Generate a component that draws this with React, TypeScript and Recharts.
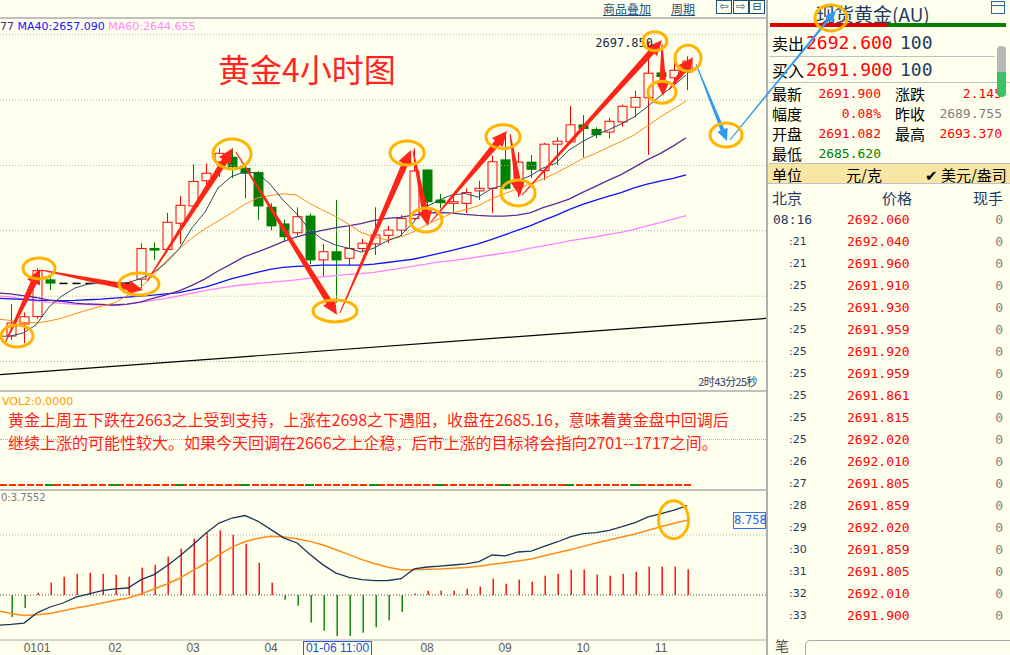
import React from 'react';
import { ComposedChart, Bar, Line, XAxis, YAxis, ReferenceLine, ReferenceDot } from 'recharts';

const BG = '#FFFFEE';
const RED = '#ff0000';
const GREEN = '#008000';
const NAVY = '#1e3a66';
const MONO = '"DejaVu Sans Mono", monospace';
const CJK = '"Noto Sans CJK SC", "DejaVu Sans", sans-serif';

// 4h candles, index 0 = first bar on screen
const opens = [2607.8, 2611.5, 2613.8, 2625.0, 2623.9, 2623.9, 2623.9, 2623.9, 2623.9, 2623.9, 2625.2, 2634.6, 2634.3, 2642.3, 2647.6, 2655.3, 2661.1, 2662.5, 2659.1, 2657.8, 2647.2, 2642.1, 2639.4, 2644.5, 2631.1, 2633.6, 2631.6, 2634.6, 2636.0, 2638.6, 2640.2, 2643.8, 2658.6, 2649.4, 2648.4, 2648.4, 2652.2, 2653.0, 2661.7, 2653.3, 2661.0, 2658.4, 2666.5, 2667.2, 2672.4, 2671.0, 2670.2, 2673.3, 2677.8, 2680.7, 2688.3, 2686.8, 2688.6];
const highs = [2617.6, 2615.0, 2628.5, 2625.8, 2623.9, 2623.9, 2623.9, 2623.9, 2623.9, 2623.9, 2636.2, 2636.4, 2645.5, 2650.6, 2660.3, 2660.6, 2665.2, 2665.2, 2660.0, 2658.3, 2648.4, 2643.4, 2647.2, 2645.3, 2636.0, 2649.4, 2641.5, 2637.5, 2647.2, 2641.5, 2644.8, 2665.2, 2658.8, 2651.3, 2650.4, 2653.0, 2655.3, 2663.0, 2669.8, 2664.0, 2663.2, 2666.9, 2668.6, 2678.2, 2675.4, 2671.7, 2674.6, 2678.6, 2682.8, 2697.85, 2690.0, 2693.2, 2693.37];
const lows = [2606.6, 2605.6, 2613.0, 2621.9, 2623.9, 2623.9, 2623.9, 2623.9, 2623.9, 2623.9, 2622.4, 2631.1, 2634.0, 2636.0, 2646.9, 2653.7, 2656.5, 2656.1, 2649.9, 2643.3, 2640.2, 2637.0, 2638.5, 2629.8, 2626.0, 2618.0, 2629.5, 2633.5, 2632.6, 2636.2, 2638.2, 2643.3, 2646.9, 2646.9, 2645.5, 2645.4, 2649.4, 2645.5, 2652.5, 2650.4, 2656.1, 2655.5, 2660.1, 2667.0, 2662.5, 2668.3, 2668.3, 2671.8, 2674.7, 2663.2, 2684.5, 2685.1, 2683.0];
const closes = [2611.8, 2613.7, 2627.8, 2624.0, 2623.9, 2623.9, 2623.9, 2623.9, 2623.9, 2623.9, 2634.6, 2634.1, 2642.6, 2647.8, 2655.1, 2657.6, 2663.7, 2659.6, 2657.6, 2647.6, 2641.5, 2638.2, 2644.3, 2631.1, 2633.6, 2631.1, 2634.6, 2636.2, 2638.7, 2640.2, 2643.8, 2658.3, 2648.9, 2648.6, 2648.9, 2651.7, 2653.0, 2661.1, 2653.0, 2661.0, 2658.8, 2666.5, 2667.4, 2672.4, 2671.3, 2669.4, 2673.5, 2678.1, 2680.8, 2688.2, 2687.2, 2689.1, 2691.9];

// moving averages, first value belongs to the bar just off the left edge
const ma5 = [2607.7, 2607.8, 2608.7, 2611.2, 2616.7, 2620.1, 2622.5, 2623.7, 2624.1, 2624.1, 2624.1, 2625.3, 2627.1, 2630.2, 2634.4, 2640.9, 2645.7, 2653.1, 2656.5, 2658.0, 2657.7, 2654.3, 2649.4, 2645.4, 2640.6, 2637.5, 2635.7, 2634.7, 2633.5, 2634.7, 2636.9, 2638.4, 2642.4, 2647.3, 2649.4, 2651.0, 2651.4, 2650.3, 2652.8, 2654.0, 2655.2, 2656.8, 2659.2, 2660.7, 2664.7, 2667.2, 2669.3, 2670.8, 2672.7, 2674.8, 2677.9, 2681.2, 2684.3, 2687.6];
const ma10 = [2613.0, 2612.6, 2612.0, 2611.8, 2612.4, 2613.3, 2614.6, 2615.8, 2616.9, 2617.9, 2620.1, 2622.5, 2626.2, 2630.8, 2634.4, 2637.8, 2640.6, 2643.0, 2645.4, 2648.0, 2650.0, 2650.8, 2651.3, 2651.0, 2648.5, 2646.4, 2644.5, 2642.1, 2639.5, 2638.1, 2637.2, 2638.1, 2639.6, 2641.8, 2643.6, 2645.4, 2646.4, 2647.6, 2649.7, 2651.3, 2652.8, 2654.3, 2655.8, 2657.7, 2659.8, 2662.0, 2663.6, 2665.5, 2667.3, 2669.3, 2672.0, 2674.8, 2677.2, 2679.7];
const ma20 = [2621.0, 2620.7, 2620.2, 2619.6, 2618.8, 2618.4, 2617.9, 2617.6, 2617.5, 2617.3, 2617.6, 2618.2, 2619.3, 2620.4, 2621.6, 2623.3, 2625.3, 2627.7, 2629.8, 2632.0, 2633.5, 2635.0, 2636.7, 2638.1, 2639.2, 2640.1, 2640.9, 2641.5, 2642.2, 2643.2, 2643.8, 2644.1, 2644.8, 2645.4, 2645.6, 2645.4, 2645.0, 2644.7, 2644.5, 2644.5, 2644.8, 2645.5, 2647.1, 2648.3, 2649.7, 2651.7, 2653.5, 2655.4, 2657.2, 2659.4, 2661.7, 2663.6, 2665.9, 2668.477];
const ma40 = [2619.4, 2619.2, 2619.0, 2618.8, 2618.7, 2618.6, 2618.7, 2618.9, 2619.1, 2619.4, 2619.7, 2620.0, 2620.3, 2620.7, 2621.1, 2621.9, 2622.8, 2624.0, 2625.3, 2626.3, 2627.3, 2628.2, 2628.8, 2629.1, 2629.3, 2629.5, 2629.5, 2629.5, 2629.5, 2629.8, 2630.3, 2630.8, 2631.3, 2632.2, 2633.1, 2634.0, 2635.0, 2636.0, 2637.3, 2638.7, 2640.1, 2641.5, 2643.2, 2644.7, 2646.5, 2648.0, 2649.3, 2650.5, 2651.7, 2653.1, 2654.3, 2655.2, 2656.0, 2657.09];
const ma60 = [2620.1, 2619.8, 2619.1, 2618.6, 2618.1, 2617.8, 2617.5, 2617.4, 2617.3, 2617.1, 2617.5, 2618.1, 2618.7, 2619.3, 2620.1, 2620.9, 2621.7, 2622.4, 2623.0, 2623.5, 2623.9, 2624.2, 2624.6, 2625.0, 2625.5, 2625.9, 2626.3, 2626.7, 2626.9, 2627.3, 2627.9, 2628.5, 2629.2, 2629.8, 2630.5, 2630.9, 2631.4, 2632.0, 2632.6, 2633.2, 2633.8, 2634.7, 2635.4, 2636.1, 2636.9, 2637.5, 2638.1, 2638.9, 2639.5, 2640.4, 2641.5, 2642.5, 2643.6, 2644.655];

// MACD, dif/dea start one bar before the screen
const macdHist = [-3.2, -1.9, 0.34, 1.8, 2.67, 3.1, 3.26, 3.1, 2.97, 2.67, 4.0, 4.4, 5.6, 6.76, 8.2, 9.05, 9.44, 8.8, 7.5, 4.7, 1.8, -0.68, -1.56, -4.04, -5.2, -6.0, -6.0, -5.5, -4.7, -3.7, -2.5, 0.2, 0.63, 0.63, 0.63, 0.92, 1.22, 2.4, 1.65, 2.24, 1.95, 2.82, 3.1, 3.7, 3.7, 2.97, 2.82, 3.1, 3.4, 4.14, 4.14, 4.14, 3.7552];
const dif = [-4.4, -4.3, -4.1, -2.6, -1.75, -1.17, -0.3, 0.15, 0.63, 0.88, 1.02, 2.24, 2.97, 4.28, 5.74, 7.35, 9.05, 10.5, 11.24, 11.6, 10.76, 9.54, 8.3, 7.6, 5.9, 4.4, 3.2, 2.58, 2.24, 2.1, 2.12, 2.38, 3.8, 4.09, 4.23, 4.38, 4.53, 4.87, 5.84, 5.7, 6.28, 6.42, 7.1, 7.74, 8.47, 8.95, 9.1, 9.44, 9.97, 10.56, 11.39, 11.87, 12.4, 13.04];
const dea = [-2.3, -2.7, -3.0, -2.9, -2.7, -2.3, -1.9, -1.56, -1.17, -0.78, -0.44, 0.15, 0.88, 1.6, 2.48, 3.6, 4.67, 5.9, 7.0, 7.8, 8.3, 8.56, 8.47, 8.2, 7.83, 7.3, 6.6, 5.9, 5.16, 4.57, 4.04, 3.7, 3.7, 3.75, 3.8, 3.9, 4.0, 4.2, 4.48, 4.72, 4.96, 5.26, 5.74, 6.18, 6.62, 7.1, 7.6, 8.03, 8.47, 8.9, 9.44, 9.97, 10.47, 10.9];

const dayTicks = [2, 8, 14, 20, 32, 38, 44, 50];
const dayLabels = ['0101', '02', '03', '04', '08', '09', '10', '11'];
const gridPrices = [2600, 2620, 2640, 2660, 2680, 2700];
const trendStart = [-0.77, 2596.0];
const trendEnd = [58.15, 2613.2];

// hand-drawn annotations, in (bar index, price)
const redArrows = [
  [[-0.38, 2605.7], [2.31, 2628.3]],
  [[2.38, 2628.0], [10.23, 2621.9]],
  [[10.54, 2624.6], [17.15, 2665.3]],
  [[17.38, 2664.1], [25.15, 2614.3]],
  [[25.38, 2614.9], [30.85, 2664.7]],
  [[31.0, 2664.4], [32.15, 2641.5]],
  [[32.38, 2642.7], [38.23, 2670.5]],
  [[38.46, 2669.6], [39.23, 2650.6]],
  [[39.38, 2650.9], [50.15, 2698.3]],
  [[50.15, 2697.1], [50.23, 2681.2]],
  [[50.69, 2683.1], [52.54, 2693.1]],
];
const blueArrows = [
  [[52.77, 2691.0], [55.15, 2667.5]],
  [[55.38, 2667.8], [63.54, 2707.5]],
];
const rings = [
  [0.54, 2607.8, 16, 11], [2.23, 2628.5, 16, 10.5], [9.92, 2623.7, 20, 11],
  [17.08, 2663.5, 19, 15], [25.0, 2615.5, 22, 11], [30.54, 2663.8, 17, 12],
  [32.0, 2643.3, 16, 12], [37.92, 2668.8, 17, 12], [39.08, 2651.6, 17, 13],
  [49.6, 2698.0, 12, 9.5], [50.15, 2682.4, 14, 11], [52.15, 2692.8, 13, 13],
  [55.08, 2669.3, 16, 12], [63.15, 2705.1, 16, 13],
];
const macdRing = [50.96, 11.0];

const quoteLeft = [['最新', '2691.900'], ['幅度', '0.08%'], ['开盘', '2691.082'], ['最低', '2685.620']];
const quoteRight = [['涨跌', '2.145'], ['昨收', '2689.755'], ['最高', '2693.370']];
const tickTimes = ['08:16', ':21', ':21', ':25', ':25', ':25', ':25', ':25', ':25', ':25', ':25', ':26', ':27', ':28', ':29', ':30', ':31', ':32', ':33'];
const tickPrices = ['2692.060', '2692.040', '2691.960', '2691.910', '2691.930', '2691.959', '2691.920', '2691.959', '2691.861', '2691.815', '2692.020', '2692.010', '2691.805', '2691.859', '2692.020', '2691.859', '2691.805', '2692.010', '2691.900'];
const tickVols = [0, 0, 0, 0, 0, 0, 0, 0, 0, 0, 0, 0, 0, 0, 0, 0, 0, 0, 0];

const priceRows = ma5.map((_, k) => {
  const i = k - 1;
  const row: any = { i, ma5: ma5[k], ma10: ma10[k], ma20: ma20[k], ma40: ma40[k], ma60: ma60[k] };
  if (i >= 0) {
    Object.assign(row, { open: opens[i], high: highs[i], low: lows[i], close: closes[i], range: [lows[i], highs[i]] });
  }
  return row;
});

const macdRows = dif.map((_, k) => {
  const i = k - 1;
  return { i, dif: dif[k], dea: dea[k], hist: i >= 0 ? macdHist[i] : undefined };
});

function Candle(props: any) {
  const { x, y, width, height, payload } = props;
  if (!payload || payload.high == null || !isFinite(y)) return <g />;
  const { open, close, high, low } = payload;
  const cx = Math.round(x + width / 2) + 0.5;
  if (high === low) {
    return <line x1={cx - 4} x2={cx + 4} y1={y} y2={y} stroke="#000" strokeWidth={1.5} />;
  }
  const k = height / (high - low);
  const yOf = (v: number) => y + (high - v) * k;
  const up = close >= open;
  const color = up ? RED : GREEN;
  const top = yOf(Math.max(open, close));
  const bh = Math.max(yOf(Math.min(open, close)) - top, 1.5);
  return (
    <g>
      <line x1={cx} x2={cx} y1={y} y2={top} stroke={color} />
      <line x1={cx} x2={cx} y1={top + bh} y2={y + height} stroke={color} />
      {up ? (
        <rect x={cx - 4.5} y={top} width={9} height={bh} fill={BG} stroke={color} />
      ) : (
        <rect x={cx - 5} y={top - 0.5} width={10} height={bh + 1} fill={color} />
      )}
    </g>
  );
}

function MacdBar(props: any) {
  const { x, y, width, height, payload } = props;
  if (!payload || payload.hist == null || !isFinite(y)) return <g />;
  const top = Math.min(y, y + height);
  const cx = Math.round(x + width / 2);
  return <rect x={cx - 0.5} y={top} width={1.4} height={Math.abs(height)} fill={payload.hist >= 0 ? RED : GREEN} />;
}

function arrow(color: string, w0: number, w1: number, head: number, headW: number) {
  return (p: any) => {
    const { x1, y1, x2, y2 } = p;
    const dx = x2 - x1;
    const dy = y2 - y1;
    const len = Math.hypot(dx, dy) || 1;
    const ux = dx / len;
    const uy = dy / len;
    const nx = -uy;
    const ny = ux;
    const bx = x2 - ux * head;
    const by = y2 - uy * head;
    const pts = [
      [x1 + (nx * w0) / 2, y1 + (ny * w0) / 2],
      [bx + (nx * w1) / 2, by + (ny * w1) / 2],
      [bx + (nx * headW) / 2, by + (ny * headW) / 2],
      [x2, y2],
      [bx - (nx * headW) / 2, by - (ny * headW) / 2],
      [bx - (nx * w1) / 2, by - (ny * w1) / 2],
      [x1 - (nx * w0) / 2, y1 - (ny * w0) / 2],
    ];
    return <polygon points={pts.map((q) => q.join(',')).join(' ')} fill={color} />;
  };
}

const redArrowShape = arrow('#ff2418', 1, 6.5, 15, 14);
const blueArrowShape = arrow('#2f9bf0', 1, 4, 12, 11);
const blueThinShape = arrow('#2f9bf0', 1, 2.5, 12, 10);

function T({ x, y, right, size = 13, color = '#000', font = CJK, children, style }: any) {
  return (
    <div
      style={{
        position: 'absolute',
        left: x,
        right,
        top: y - size / 2,
        fontSize: size,
        lineHeight: `${size}px`,
        color,
        fontFamily: font,
        whiteSpace: 'nowrap',
        ...style,
      }}
    >
      {children}
    </div>
  );
}

function HLine({ x, y, w, color = '#c0c0c0', h = 1 }: any) {
  return <div style={{ position: 'absolute', left: x, top: y, width: w, height: h, background: color }} />;
}

function QuotePanel() {
  const leftColors = [RED, RED, RED, GREEN];
  const rightColors = [RED, '#808080', RED];
  return (
    <>
      <div style={{ position: 'absolute', left: 766, top: 0, width: 2, height: 655, background: '#b0b0b0' }} />
      <T x={816} y={13} size={19} color={NAVY}>现货黄金(AU)</T>
      <div style={{ position: 'absolute', left: 991, top: 1, width: 12, height: 11, border: '1.5px solid #2a6aa8' }}>
        <div style={{ height: 3, borderBottom: '1.5px solid #2a6aa8' }} />
      </div>
      <div style={{ position: 'absolute', left: 770, top: 23, width: 117, height: 4, background: '#e00000' }} />
      <div style={{ position: 'absolute', left: 887, top: 23, width: 119, height: 4, background: GREEN }} />

      <T x={772} y={43} size={16}>卖出</T>
      <T x={806} y={43} size={18} color={RED} font={MONO}>2692.600</T>
      <T x={900} y={43} size={18} color={NAVY} font={MONO}>100</T>
      <HLine x={769} y={56} w={226} />
      <T x={772} y={70} size={16}>买入</T>
      <T x={806} y={70} size={18} color={RED} font={MONO}>2691.900</T>
      <T x={900} y={70} size={18} color={NAVY} font={MONO}>100</T>
      <HLine x={769} y={82} w={241} />

      {quoteLeft.map(([label, value], k) => (
        <React.Fragment key={label}>
          <T x={772} y={93 + k * 20} size={15}>{label}</T>
          <T right={1010 - 881} y={93 + k * 20} size={13} color={leftColors[k]} font={MONO}>{value}</T>
        </React.Fragment>
      ))}
      {quoteRight.map(([label, value], k) => (
        <React.Fragment key={label}>
          <T x={895} y={93 + k * 20} size={15}>{label}</T>
          <T right={8} y={93 + k * 20} size={13} color={rightColors[k]} font={MONO}>{value}</T>
        </React.Fragment>
      ))}

      <div style={{ position: 'absolute', left: 997, top: 46, width: 9, height: 26, background: '#b8b8b8', borderRadius: '4px 4px 0 0' }} />
      <div style={{ position: 'absolute', left: 997, top: 72, width: 9, height: 25, background: '#3cc464', borderRadius: '0 0 4px 4px' }} />

      <HLine x={769} y={163} w={241} />
      <div style={{ position: 'absolute', left: 768, top: 164, width: 242, height: 19, background: '#f7e6a4' }} />
      <T x={772} y={174} size={15}>单位</T>
      <T x={846} y={174} size={15}>元/克</T>
      <T x={925} y={174} size={15}>✔ 美元/盎司</T>
      <HLine x={768} y={183} w={242} />

      <T x={772} y={197} size={15} color={NAVY}>北京</T>
      <T x={882} y={197} size={15} color={NAVY}>价格</T>
      <T right={7} y={197} size={15} color={NAVY}>现手</T>

      {tickTimes.map((t, k) => (
        <React.Fragment key={k}>
          {k === 0 ? (
            <T x={773} y={219 + k * 22} size={13} color={NAVY} font={MONO}>{t}</T>
          ) : (
            <T x={789} y={219 + k * 22} size={11} color={NAVY} font='"DejaVu Sans", sans-serif'>{t}</T>
          )}
          <T x={847} y={219 + k * 22} size={13} color={RED} font={MONO}>{tickPrices[k]}</T>
          <T right={7} y={219 + k * 22} size={13} color="#808080" font={MONO}>{tickVols[k]}</T>
        </React.Fragment>
      ))}

      <T x={775} y={645} size={14} color="#555">笔</T>
      <div style={{ position: 'absolute', left: 805, top: 640, width: 210, height: 22, border: '1px solid #a8a8a8', borderRadius: 5 }} />
    </>
  );
}

export default function App() {
  const dash = 'repeating-linear-gradient(90deg, #ff3000 0 7px, transparent 7px 9px)';
  const greenBits = 'repeating-linear-gradient(90deg, transparent 0 45px, #1a8a1a 45px 54px, transparent 54px 65px)';
  return (
    <div style={{ position: 'absolute', left: 0, top: 0, width: 1010, height: 655, background: BG, overflow: 'hidden', fontFamily: CJK }}>
      {/* header of the chart window */}
      <T x={603} y={8.5} size={12} color="#1f4e79" style={{ textDecoration: 'underline' }}>商品叠加</T>
      <T x={671} y={8.5} size={12} color="#1f4e79" style={{ textDecoration: 'underline' }}>周期</T>
      {['⇦', '⇨', '⊟'].map((s, k) => (
        <div key={s} style={{ position: 'absolute', left: 716 + k * 16.5, top: 0, width: 14, height: 12, border: '1px solid #1f4e79', fontSize: 11, lineHeight: '12px', textAlign: 'center', color: '#1f4e79', fontFamily: '"DejaVu Sans", sans-serif' }}>{s}</div>
      ))}
      <HLine x={0} y={17} w={766} color="#c0c0c0" h={1.5} />

      <div style={{ position: 'absolute', left: 0, top: 21, fontSize: 11, lineHeight: '12px', fontFamily: '"DejaVu Sans", sans-serif', whiteSpace: 'nowrap' }}>
        <span style={{ color: '#4b2a8a' }}>77 </span>
        <span style={{ color: '#1414ff' }}>MA40:2657.090 </span>
        <span style={{ color: '#ff88ff' }}>MA60:2644.655</span>
      </div>
      <T x={218} y={68} size={32} color="#ff2424">黄金4小时图</T>

      <HLine x={0} y={390} w={766} color="#c0c0c0" h={1.5} />
      <T right={1010 - 757} y={381} size={11} color={NAVY} style={{ letterSpacing: -0.6 }}>2时43分25秒</T>
      <T x={2} y={401} size={11} color="#ff9900" font='"DejaVu Sans", sans-serif'>VOL2:0.0000</T>
      <div style={{ position: 'absolute', left: 0, top: 439, width: 766, borderTop: '1px dotted #b4b4b4' }} />
      <T x={8} y={419} size={16} color="#ff1e1e">黄金上周五下跌在2663之上受到支持，上涨在2698之下遇阻，收盘在2685.16，意味着黄金盘中回调后</T>
      <T x={8} y={442} size={16} color="#ff1e1e">继续上涨的可能性较大。如果今天回调在2666之上企稳，后市上涨的目标将会指向2701--1717之间。</T>
      <div style={{ position: 'absolute', left: 0, top: 484, width: 692, height: 2, background: `${greenBits}, ${dash}` }} />
      <HLine x={0} y={489} w={766} color="#c0c0c0" h={1.5} />

      <QuotePanel />

      {/* MACD panel */}
      <div style={{ position: 'absolute', left: 0, top: 490 }}>
        <ComposedChart width={1010} height={165} data={macdRows} margin={{ top: 0, right: 244, bottom: 0, left: 0 }}>
          <XAxis
            dataKey="i"
            type="number"
            domain={[-0.85, 58.07]}
            allowDataOverflow
            ticks={dayTicks}
            interval={0}
            tickFormatter={(v: number) => dayLabels[dayTicks.indexOf(v)] ?? ''}
            tickLine={false}
            tickSize={0}
            tickMargin={3}
            height={15}
            axisLine={{ stroke: '#a8a8a8' }}
            tick={{ fontSize: 12, fill: '#5a5a5a', fontFamily: '"Liberation Sans", sans-serif' }}
          />
          <YAxis type="number" domain={[-6.57, 15.33]} allowDataOverflow hide />
          <ReferenceLine y={8.758} stroke="#b4b4b4" strokeDasharray="1 2" />
          <ReferenceLine y={0} stroke="#505050" strokeDasharray="1 2" />
          <Bar dataKey="hist" barSize={2} shape={MacdBar} isAnimationActive={false} />
          <Line dataKey="dea" stroke="#ff8c1a" strokeWidth={1.5} dot={false} isAnimationActive={false} />
          <Line dataKey="dif" stroke="#1c3557" strokeWidth={1.3} dot={false} isAnimationActive={false} />
          <ReferenceDot
            x={macdRing[0]}
            y={macdRing[1]}
            ifOverflow="visible"
            shape={(p: any) => <ellipse cx={p.cx} cy={p.cy} rx={15} ry={19} fill="none" stroke="#ffb400" strokeWidth={3} />}
          />
        </ComposedChart>
      </div>
      <T x={1} y={498} size={10} color="#7a7a7a" font='"DejaVu Sans", sans-serif'>0:3.7552</T>
      <div style={{ position: 'absolute', left: 733, top: 512, width: 31, height: 15, border: '1px solid #3070ff', background: BG, color: '#2060ff', fontSize: 11.5, lineHeight: '15px', textAlign: 'center', fontFamily: '"DejaVu Sans", sans-serif' }}>8.758</div>
      <div style={{ position: 'absolute', left: 303, top: 641, width: 67, height: 13, border: '1px solid #3060d0', background: BG, color: '#2050e0', fontSize: 12, lineHeight: '13px', textAlign: 'center', fontFamily: '"Liberation Sans", sans-serif' }}>01-06 11:00</div>

      {/* price panel */}
      <div style={{ position: 'absolute', left: 0, top: 0, zIndex: 3 }}>
        <ComposedChart width={1010} height={390} data={priceRows} margin={{ top: 17, right: 244, bottom: 0, left: 0 }}>
          <XAxis dataKey="i" type="number" domain={[-0.77, 58.15]} allowDataOverflow hide />
          <YAxis type="number" domain={[2591.3, 2705.4]} allowDataOverflow hide />
          {gridPrices.map((v) => (
            <ReferenceLine key={v} y={v} stroke="#b4b4b4" strokeDasharray="1 2" />
          ))}
          <ReferenceLine
            segment={[{ x: trendStart[0], y: trendStart[1] }, { x: trendEnd[0], y: trendEnd[1] }]}
            stroke="#000"
            strokeWidth={1.2}
            ifOverflow="visible"
          />
          <Bar dataKey="range" barSize={10} shape={Candle} isAnimationActive={false} />
          <Line dataKey="ma60" stroke="#ff80ff" strokeWidth={1.3} dot={false} isAnimationActive={false} />
          <Line dataKey="ma40" stroke="#1010ff" strokeWidth={1.3} dot={false} isAnimationActive={false} />
          <Line dataKey="ma20" stroke="#5c2a96" strokeWidth={1.3} dot={false} isAnimationActive={false} />
          <Line dataKey="ma10" stroke="#ff8c1a" strokeWidth={1} dot={false} isAnimationActive={false} />
          <Line dataKey="ma5" stroke="#2b4a6b" strokeWidth={1} dot={false} isAnimationActive={false} />
          <ReferenceDot
            x={49}
            y={2697.85}
            ifOverflow="visible"
            shape={(p: any) => (
              <text x={p.cx + 6} y={p.cy + 5} textAnchor="end" fontSize={12} fill="#1a2a50" fontFamily={MONO}>
                2697.850
              </text>
            )}
          />
          {redArrows.map(([a, b], k) => (
            <ReferenceLine key={`r${k}`} segment={[{ x: a[0], y: a[1] }, { x: b[0], y: b[1] }]} ifOverflow="visible" shape={redArrowShape} />
          ))}
          {blueArrows.map(([a, b], k) => (
            <ReferenceLine key={`b${k}`} segment={[{ x: a[0], y: a[1] }, { x: b[0], y: b[1] }]} ifOverflow="visible" shape={k === 0 ? blueArrowShape : blueThinShape} />
          ))}
          {rings.map(([i, p, rx, ry], k) => (
            <ReferenceDot
              key={`e${k}`}
              x={i}
              y={p}
              ifOverflow="visible"
              shape={(d: any) => <ellipse cx={d.cx} cy={d.cy} rx={rx} ry={ry} fill="none" stroke="#ffb400" strokeWidth={3} />}
            />
          ))}
        </ComposedChart>
      </div>
    </div>
  );
}
